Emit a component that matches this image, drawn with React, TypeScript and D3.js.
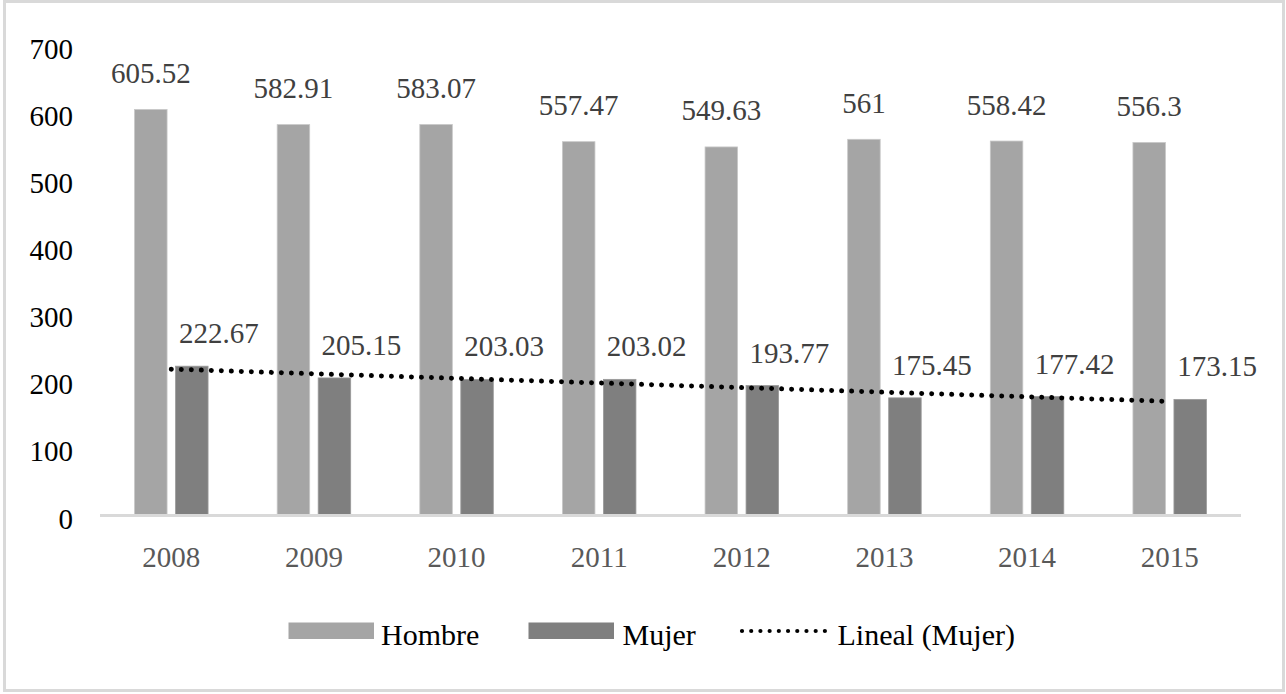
import React from "react";
import * as d3 from "d3";

const years = ["2008", "2009", "2010", "2011", "2012", "2013", "2014", "2015"];
const hombre = [605.52, 582.91, 583.07, 557.47, 549.63, 561, 558.42, 556.3];
const mujer = [222.67, 205.15, 203.03, 203.02, 193.77, 175.45, 177.42, 173.15];
const yTicks = [0, 100, 200, 300, 400, 500, 600, 700];
const hombreLabels = ["605.52", "582.91", "583.07", "557.47", "549.63", "561", "558.42", "556.3"];
const mujerLabels = ["222.67", "205.15", "203.03", "203.02", "193.77", "175.45", "177.42", "173.15"];

const W = 1286;
const H = 694;
const FONT = "'Liberation Serif', 'Times New Roman', serif";

export default function App() {
  const x = d3.scaleBand<string>().domain(years).range([100, 1241]).paddingInner(0).paddingOuter(0);
  const y = d3.scaleLinear().domain([0, 700]).range([515.5, 46.1]);
  const bw = 32.5;
  const gap = 8.5;
  const center = (yr: string) => (x(yr) as number) + x.bandwidth() / 2;

  // linear trend (least squares) of Mujer
  const idx = mujer.map((_, i) => i + 1);
  const mx = d3.mean(idx) as number;
  const my = d3.mean(mujer) as number;
  const sxy = d3.sum(idx.map((v, i) => (v - mx) * (mujer[i] - my)));
  const sxx = d3.sum(idx.map((v) => (v - mx) * (v - mx)));
  const slope = sxy / sxx;
  const trend = idx.map((v) => my + slope * (v - mx));
  const trendLine = d3
    .line<number>()
    .x((_, i) => center(years[i]))
    .y((d) => y(d));

  return (
    <svg
      width={W}
      height={H}
      style={{ position: "absolute", left: 0, top: 0, display: "block", background: "#fff" }}
    >
      <rect x={4.5} y={1.5} width={1279} height={689} fill="#fff" stroke="#d9d9d9" strokeWidth={3} />

      {/* y tick labels */}
      {yTicks.map((t) => (
        <text key={t} x={73} y={y(t) + 13} textAnchor="end" fontFamily={FONT} fontSize={29} fill="#000">
          {t}
        </text>
      ))}

      {/* bars */}
      {years.map((yr, i) => (
        <g key={yr}>
          <rect
            x={center(yr) - gap / 2 - bw}
            y={y(hombre[i])}
            width={bw}
            height={y(0) - y(hombre[i])}
            fill="#a5a5a5"
            stroke="#c8c8c8"
            strokeWidth={0.8}
          />
          <rect
            x={center(yr) + gap / 2}
            y={y(mujer[i])}
            width={bw}
            height={y(0) - y(mujer[i])}
            fill="#7f7f7f"
            stroke="#9a9a9a"
            strokeWidth={0.8}
          />
        </g>
      ))}

      {/* axis line */}
      <line x1={100} x2={1241} y1={515.5} y2={515.5} stroke="#d9d9d9" strokeWidth={3} />

      {/* trend line */}
      <path
        d={trendLine(trend) as string}
        fill="none"
        stroke="#000"
        strokeWidth={5}
        strokeLinecap="round"
        strokeDasharray="0.01 10"
      />

      {/* data labels */}
      {years.map((yr, i) => (
        <g key={"l" + yr}>
          <text
            x={center(yr) - gap / 2 - bw / 2}
            y={y(hombre[i]) - 26.5}
            textAnchor="middle"
            fontFamily={FONT}
            fontSize={29}
            fill="#404040"
          >
            {hombreLabels[i]}
          </text>
          <text
            x={center(yr) + gap / 2 + bw / 2 + 27}
            y={y(mujer[i]) - 23}
            textAnchor="middle"
            fontFamily={FONT}
            fontSize={29}
            fill="#404040"
          >
            {mujerLabels[i]}
          </text>
        </g>
      ))}

      {/* category labels */}
      {years.map((yr) => (
        <text
          key={"c" + yr}
          x={center(yr)}
          y={566.5}
          textAnchor="middle"
          fontFamily={FONT}
          fontSize={29}
          fill="#595959"
        >
          {yr}
        </text>
      ))}

      {/* legend */}
      <rect x={288.5} y={622.5} width={85.5} height={16.5} fill="#a5a5a5" />
      <text x={381} y={644.5} fontFamily={FONT} fontSize={30} fill="#000">
        Hombre
      </text>
      <rect x={528.5} y={622.5} width={85.5} height={16.5} fill="#7f7f7f" />
      <text x={622.5} y={644.5} fontFamily={FONT} fontSize={30} fill="#000">
        Mujer
      </text>
      <line
        x1={742}
        x2={825}
        y1={631}
        y2={631}
        stroke="#000"
        strokeWidth={4.2}
        strokeLinecap="round"
        strokeDasharray="0.01 9.2"
      />
      <text x={837.5} y={644.5} fontFamily={FONT} fontSize={30} fill="#000">
        Lineal (Mujer)
      </text>
    </svg>
  );
}
